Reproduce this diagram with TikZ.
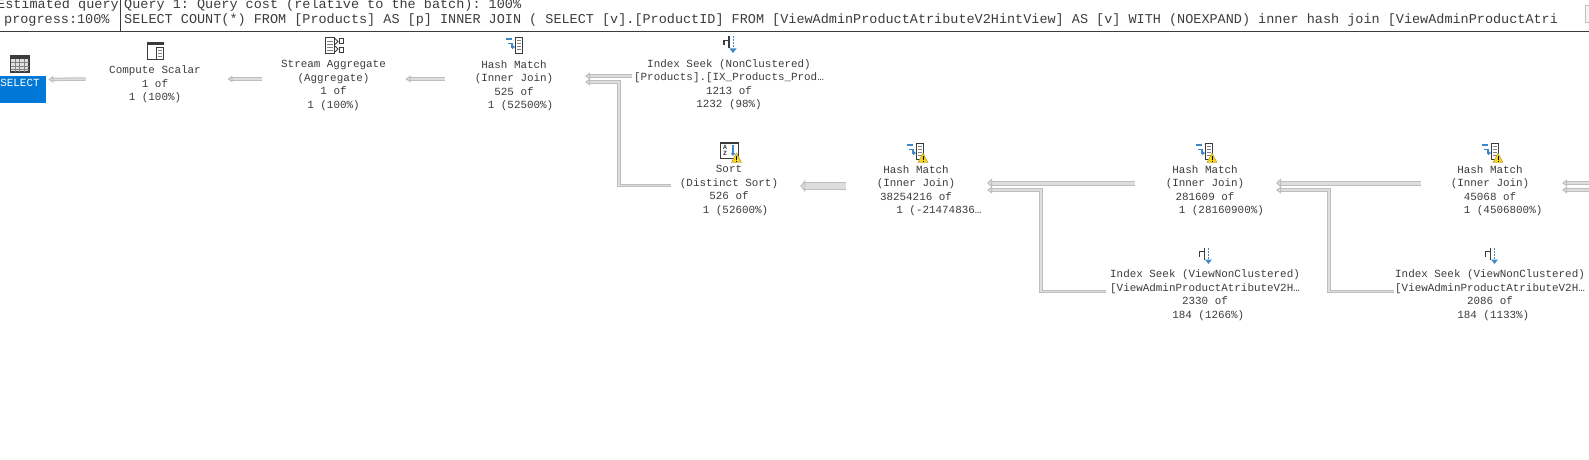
\documentclass[tikz,border=0pt]{standalone}
\usepackage{fontspec}
\setmainfont{Liberation Mono}
\usetikzlibrary{arrows.meta}
\frenchspacing

\definecolor{planink}{HTML}{3C3C3C}
\definecolor{flowedge}{HTML}{BEBEBE}
\definecolor{flowfill}{HTML}{DEDEDE}
\definecolor{selblue}{HTML}{0078D7}
\definecolor{hashblue}{HTML}{3F87C9}
\definecolor{warnyellow}{HTML}{F5D327}

\tikzset{
    plantext/.style={text=planink, font=\fontsize{10.9}{13.5}\selectfont, align=center, inner sep=0pt},
    headtext/.style={text=planink, font=\fontsize{13.5}{14}\selectfont, anchor=west, inner sep=0pt},
    flow/.style={draw=flowedge, line width=1pt, double=flowfill, double distance=1.5pt, line join=miter,
        -{Triangle[length=5pt,width=7pt,fill=flowfill]}},
    flowmid/.style={flow, double distance=3pt, -{Triangle[length=5pt,width=9pt,fill=flowfill]}},
    flowbig/.style={flow, double distance=6.4pt, -{Triangle[length=5pt,width=12pt,fill=flowfill]}},
    hashicon/.pic={
        \draw[hashblue, line width=2pt] (-9,-6.5) -- (-3,-6.5);
        \draw[hashblue, line width=1.6pt, -{Triangle[length=3pt,width=4.5pt]}] (-7,-2) -- (-3,-2) -- (-3,1.5) -- (0,1.5);
        \draw[planink, line width=0.9pt, fill=white] (0,-8) rectangle (7.5,8);
        \foreach \yy in {-5,-2,1,4}
            \draw[gray, line width=0.9pt] (2,\yy) -- (5.5,\yy);
    },
    seekicon/.pic={
        \draw[planink, line width=1.3pt] (-6,1) -- (-6,-4) -- (-1,-4) (-1,-8) -- (-1,4);
        \draw[hashblue, line width=1pt, dash pattern=on 2pt off 1pt] (3,-8) -- (3,3);
        \fill[hashblue] (-0.5,4) -- (6.5,4) -- (3,8.5) -- cycle;
    },
    warnicon/.pic={
        \fill[warnyellow, draw=warnyellow!70!black, line width=0.4pt] (-5,4.5) -- (0,-5) -- (5,4.5) -- cycle;
        \draw[black, line width=0.9pt] (0,-2) -- (0,1.5) (0,2.5) -- (0,3.6);
    }
}

\begin{document}
\begin{tikzpicture}[x=1pt,y=-1pt]
    \useasboundingbox (0,0) rectangle (1589,460);
    \clip (0,0) rectangle (1589,460);

    % Cabecera
    \node[headtext] (esthead) at (-3,5) {Estimated query};
    \node[headtext] (proghead) at (4,20) {progress:100\%};
    \node[headtext] (queryhead) at (124,5.5) {Query 1: Query cost (relative to the batch): 100\%};
    \node[headtext] (sqlhead) at (124,20) {SELECT COUNT(*) FROM [Products] AS [p] INNER JOIN ( SELECT [v].[ProductID] FROM [ViewAdminProductAtributeV2HintView] AS [v] WITH (NOEXPAND) inner hash join [ViewAdminProductAtri};
    \draw[planink, line width=1pt] (0,31.5) -- (1589,31.5);
    \draw[planink, line width=1pt] (120.5,0) -- (120.5,31.5);
    \draw[black!25, fill=black!4, line width=0.8pt] (1585,5) rectangle (1592,22);

    % Operador SELECT
    \node[fill=selblue, minimum width=46pt, minimum height=26.5pt, inner sep=0pt, anchor=north west] (select) at (0,76) {};
    \node[anchor=north, text=white, inner sep=0pt, font=\fontsize{10.9}{12}\selectfont] (seltext) at (20,79) {SELECT};
    \draw[planink, fill=black!12, line width=1.2pt] (10.5,56) rectangle (29,72);
    \fill[planink] (10.5,56) rectangle (29,59);
    \foreach \xx in {15,19.5,24}
        \draw[gray, line width=0.5pt] (\xx,59) -- (\xx,72);
    \foreach \yy in {62.5,66,69}
        \draw[gray, line width=0.5pt] (10.5,\yy) -- (29,\yy);

    % Compute Scalar
    \node[plantext] (compute) at (155,84.5) {Compute Scalar\\1 of\\1 (100\%)};
    \draw[planink, line width=0.8pt] (147.5,44) -- (147.5,59.5) -- (157,59.5);
    \fill[planink] (147,42) rectangle (163.5,45);
    \draw[planink, line width=0.7pt, fill=white] (156,47.5) rectangle (163.5,59.5);
    \draw[gray, line width=0.6pt] (158,50.5) -- (161.5,50.5) (158,53.5) -- (161.5,53.5) (158,56.5) -- (161.5,56.5);

    % Stream Aggregate
    \node[plantext] (stream) at (333.5,85.5) {Stream Aggregate\\(Aggregate)\\1 of\\1 (100\%)};
    \draw[planink, line width=0.8pt, fill=white] (325.5,37.5) rectangle (334,53);
    \draw[gray, line width=0.8pt] (327,41) -- (332.5,41) (327,44) -- (332.5,44) (327,47) -- (332.5,47) (327,50) -- (332.5,50);
    \draw[planink, line width=0.9pt] (335,38.5) -- (338,41.5) -- (335,44.5) (335,46) -- (338,49) -- (335,52);
    \draw[planink, line width=0.9pt] (339,38.5) rectangle (343,43.5) (339,47) rectangle (343,52);

    % Hash Match superior
    \node[plantext] (hashtop) at (514,85.5) {Hash Match\\(Inner Join)\\525 of\\~~1 (52500\%)};
    \pic at (515,45.5) {hashicon};

    % Index Seek superior
    \node[plantext] (seektop) at (729,84.5) {Index Seek (NonClustered)\\{[Products].[IX\_Products\_Prod…}\\1213 of\\1232 (98\%)};
    \pic at (730,44.5) {seekicon};

    % Sort
    \node[plantext] (sort) at (729,190.5) {Sort\\(Distinct Sort)\\526 of\\~~1 (52600\%)};
    \draw[planink, line width=1pt, fill=white] (720.5,142.5) rectangle (738,158);
    \fill[planink] (720.5,142) rectangle (738,144);
    \node[inner sep=0pt, text=planink, font=\fontsize{6.5}{6.5}\bfseries\selectfont, align=center] (sortaz) at (725,150.5) {A\\Z};
    \draw[hashblue, line width=1.1pt, -{Triangle[length=3pt,width=4.5pt]}] (733,145) -- (733,156);
    \pic at (736.5,158) {warnicon};

    % Hash Match de la fila inferior
    \node[plantext] (hashleft) at (916,190.5) {Hash Match\\(Inner Join)\\38254216 of\\~~~~~~~1 (-21474836…};
    \pic at (916,151.5) {hashicon};
    \pic at (923,158) {warnicon};
    \node[plantext] (hashmid) at (1205,190.5) {Hash Match\\(Inner Join)\\281609 of\\~~~~~1 (28160900\%)};
    \pic at (1205,151.5) {hashicon};
    \pic at (1212,158) {warnicon};
    \node[plantext] (hashright) at (1490,190.5) {Hash Match\\(Inner Join)\\45068 of\\~~~~1 (4506800\%)};
    \pic at (1491,151.5) {hashicon};
    \pic at (1498,158) {warnicon};

    % Index Seek inferiores
    \node[plantext] (seekmid) at (1205,295) {Index Seek (ViewNonClustered)\\{[ViewAdminProductAtributeV2H…}\\2330 of\\~184 (1266\%)};
    \pic at (1205.5,255.5) {seekicon};
    \node[plantext] (seekright) at (1490,295) {Index Seek (ViewNonClustered)\\{[ViewAdminProductAtributeV2H…}\\2086 of\\~184 (1133\%)};
    \pic at (1491.5,255.5) {seekicon};

    % Puntos de paso de las conexiones
    \coordinate (hashtopin) at (585,76);
    \coordinate (hashtopjoin) at (585,82);
    \coordinate (sortbendtop) at (619,82);
    \coordinate (sortbendlow) at (619,185.5);
    \coordinate (hashleftin) at (987,183);
    \coordinate (hashleftjoin) at (987,190);
    \coordinate (seekmidbend) at (1041,190);
    \coordinate (seekmidlow) at (1041,291.5);
    \coordinate (hashmidin) at (1276,183);
    \coordinate (hashmidjoin) at (1276,190);
    \coordinate (seekrightbend) at (1329,190);
    \coordinate (seekrightlow) at (1329,291.5);
    \coordinate (hashrightin) at (1562,183);
    \coordinate (hashrightjoin) at (1562,190);
    \coordinate (offa) at (1592,183);
    \coordinate (offb) at (1592,190);

    % Conexiones
    \draw[flow] ([shift={(-23.5,-5.5)}]compute.west) -- ([shift={(2,-10)}]select.east);
    \draw[flow] ([shift={(-18.5,-6.5)}]stream.west) -- ([shift={(26.5,-5.5)}]compute.east);
    \draw[flow] ([shift={(-30,-6.5)}]hashtop.west) -- ([shift={(19.5,-6.5)}]stream.east);
    \draw[flow] ([shift={(-2,-8.5)}]seektop.west) -- (hashtopin);
    \draw[flow] ([shift={(-9,-5)}]sort.west) -- (sortbendlow) -- (sortbendtop) -- (hashtopjoin);
    \draw[flowbig] ([shift={(-4,-4.5)}]hashleft.west) -- ([shift={(22,-4.5)}]sort.east);
    \draw[flowmid] ([shift={(-11,-7.5)}]hashmid.west) -- (hashleftin);
    \draw[flow] ([shift={(-4,-3.5)}]seekmid.west) -- (seekmidlow) -- (seekmidbend) -- (hashleftjoin);
    \draw[flowmid] ([shift={(-16,-7.5)}]hashright.west) -- (hashmidin);
    \draw[flow] ([shift={(-1,-3.5)}]seekright.west) -- (seekrightlow) -- (seekrightbend) -- (hashmidjoin);
    \draw[flow] (offa) -- (hashrightin);
    \draw[flow] (offb) -- (hashrightjoin);
\end{tikzpicture}
\end{document}
